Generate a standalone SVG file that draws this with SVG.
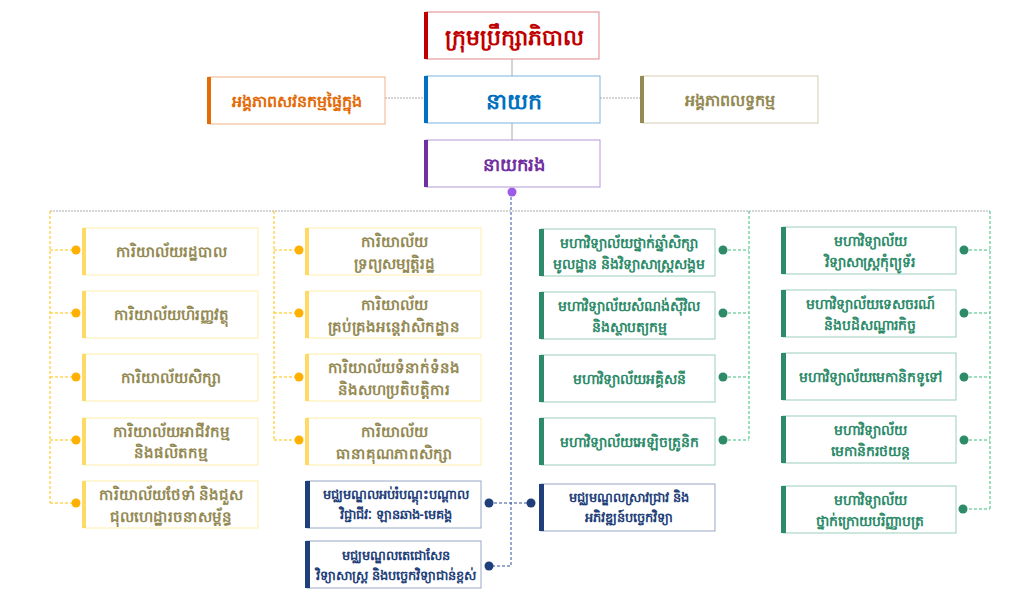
<svg xmlns="http://www.w3.org/2000/svg" width="1024" height="597" viewBox="0 0 1024 597">
<style>
text{font-family:"Noto Sans","DejaVu Sans",sans-serif;font-weight:bold;text-anchor:middle;dominant-baseline:central}
.b{fill:#fff;stroke-width:1}
.y rect.b{stroke:#ffeeaa}.y rect.bar{fill:#ffd966}.y text{fill:#948a54;font-size:15px}
.g rect.b{stroke:#9ccfbc}.g rect.bar{fill:#2e8b6a}.g text{fill:#2e8b6a;font-size:14px}
.n rect.b{stroke:#98a8c8}.n rect.bar{fill:#1f3f7a}.n text{fill:#1f3f7a;font-size:13px}
.dot-y{fill:#ffb000}.dot-g{fill:#2e8b6a}.dot-n{fill:#1f3f7a}
</style>
<rect width="1024" height="597" fill="#fff"/>
<g id="connectors" fill="none">
<line x1="512" y1="59" x2="512" y2="140" stroke="#aaa"/>
<line x1="385" y1="98" x2="424" y2="98" stroke="#aaa" stroke-dasharray="2,1"/>
<line x1="600" y1="98" x2="640" y2="98" stroke="#aaa" stroke-dasharray="2,1"/>
<line x1="50" y1="211" x2="990" y2="211" stroke="#aaa" stroke-dasharray="2,1"/>
<path d="M50 211V503M50 250H76M50 313H76M50 377H76M50 440H76M50 503H76M274 211V440M274 250H299M274 313H299M274 377H299M274 440H299" stroke="#ffc000" stroke-dasharray="3,2"/>
<path d="M749 211V440M723 250H749M723 313H749M723 377H749M723 440H749M990 211V509M964 250H990M964 313H990M964 377H990M964 440H990M964 509H990" stroke="#3cc07a" stroke-dasharray="3,2"/>
<path d="M511 192V566H489M489 503H531" stroke="#3050a0" stroke-dasharray="3,2"/>
<circle cx="512" cy="192" r="4.5" fill="#9b5ce8"/>
<g class="dot-y"><circle cx="76" cy="250" r="4.5"/><circle cx="76" cy="313" r="4.5"/><circle cx="76" cy="377" r="4.5"/><circle cx="76" cy="440" r="4.5"/><circle cx="76" cy="503" r="4.5"/><circle cx="299" cy="250" r="4.5"/><circle cx="299" cy="313" r="4.5"/><circle cx="299" cy="377" r="4.5"/><circle cx="299" cy="440" r="4.5"/></g>
<g class="dot-g"><circle cx="723" cy="250" r="4.5"/><circle cx="723" cy="313" r="4.5"/><circle cx="723" cy="377" r="4.5"/><circle cx="723" cy="440" r="4.5"/><circle cx="964" cy="250" r="4.5"/><circle cx="964" cy="313" r="4.5"/><circle cx="964" cy="377" r="4.5"/><circle cx="964" cy="440" r="4.5"/><circle cx="963" cy="509" r="4.5"/></g>
<g class="dot-n"><circle cx="489" cy="503" r="4.5"/><circle cx="489" cy="566" r="4.5"/><circle cx="531" cy="503" r="4.5"/></g>
</g>
<g id="board"><rect x="426" y="12" width="173" height="47" fill="#fff" stroke="#e08888"/><rect x="424" y="12" width="4" height="47" fill="#c00000"/><text x="514" y="36" fill="#c00000" font-size="22">ក្រុមប្រឹក្សាភិបាល</text></g>
<g id="director"><rect x="426" y="76" width="174" height="47" fill="#fff" stroke="#7ab4e0"/><rect x="424" y="76" width="4" height="47" fill="#0070c0"/><text x="514" y="100" fill="#0070c0" font-size="22">នាយក</text></g>
<g id="internal-audit"><rect x="209" y="77" width="176" height="47" fill="#fff" stroke="#f4b183"/><rect x="207" y="77" width="4" height="47" fill="#e36c09"/><text x="297" y="101" fill="#e36c09" font-size="16">អង្គភាពសវនកម្មផ្ទៃក្នុង</text></g>
<g id="procurement"><rect x="642" y="76" width="176" height="47" fill="#fff" stroke="#d4ceb0"/><rect x="640" y="76" width="4" height="47" fill="#948a54"/><text x="730" y="100" fill="#948a54" font-size="16">អង្គភាពលទ្ធកម្ម</text></g>
<g id="deputy"><rect x="426" y="140" width="174" height="47" fill="#fff" stroke="#b49ad8"/><rect x="424" y="140" width="4" height="47" fill="#7030a0"/><text x="514" y="164" fill="#7030a0" font-size="18">នាយករង</text></g>

<g id="o1" class="y"><rect class="b" x="84" y="228" width="174" height="47"/><rect class="bar" x="82" y="228" width="4" height="47"/><text x="171" y="251">ការិយាល័យរដ្ឋបាល</text></g>
<g id="o2" class="y"><rect class="b" x="84" y="291" width="174" height="47"/><rect class="bar" x="82" y="291" width="4" height="47"/><text x="171" y="314">ការិយាល័យហិរញ្ញវត្ថុ</text></g>
<g id="o3" class="y"><rect class="b" x="84" y="354" width="174" height="47"/><rect class="bar" x="82" y="354" width="4" height="47"/><text x="171" y="377">ការិយាល័យសិក្សា</text></g>
<g id="o4" class="y"><rect class="b" x="84" y="418" width="174" height="47"/><rect class="bar" x="82" y="418" width="4" height="47"/><text x="171" y="431">ការិយាល័យអាជីវកម្ម</text><text x="171" y="452">និងផលិតកម្ម</text></g>
<g id="o5" class="y"><rect class="b" x="84" y="481" width="174" height="47"/><rect class="bar" x="82" y="481" width="4" height="47"/><text x="171" y="494">ការិយាល័យថែទាំ និងជួស</text><text x="171" y="516">ជុលហេដ្ឋារចនាសម្ព័ន្ធ</text></g>

<g id="o6" class="y"><rect class="b" x="307" y="228" width="174" height="47"/><rect class="bar" x="305" y="228" width="4" height="47"/><text x="394" y="241">ការិយាល័យ</text><text x="394" y="263">ទ្រព្យសម្បត្តិរដ្ឋ</text></g>
<g id="o7" class="y"><rect class="b" x="307" y="291" width="174" height="47"/><rect class="bar" x="305" y="291" width="4" height="47"/><text x="394" y="304">ការិយាល័យ</text><text x="394" y="326">គ្រប់គ្រងអន្តេវាសិកដ្ឋាន</text></g>
<g id="o8" class="y"><rect class="b" x="307" y="354" width="174" height="47"/><rect class="bar" x="305" y="354" width="4" height="47"/><text x="394" y="367">ការិយាល័យទំនាក់ទំនង</text><text x="394" y="389">និងសហប្រតិបត្តិការ</text></g>
<g id="o9" class="y"><rect class="b" x="307" y="418" width="174" height="47"/><rect class="bar" x="305" y="418" width="4" height="47"/><text x="394" y="431">ការិយាល័យ</text><text x="394" y="453">ធានាគុណភាពសិក្សា</text></g>

<g id="c1" class="n"><rect class="b" x="307" y="481" width="174" height="47"/><rect class="bar" x="305" y="481" width="5" height="47"/><text x="396" y="494">មជ្ឈមណ្ឌលអប់រំបណ្តុះបណ្តាល</text><text x="396" y="514">វិជ្ជាជីវៈ ឡានឆាង-មេគង្គ</text></g>
<g id="c2" class="n"><rect class="b" x="307" y="541" width="174" height="47"/><rect class="bar" x="305" y="541" width="5" height="47"/><text x="396" y="555">មជ្ឈមណ្ឌលតេជោសែន</text><text x="396" y="575">វិទ្យាសាស្ត្រ និងបច្ចេកវិទ្យាជាន់ខ្ពស់</text></g>
<g id="c3" class="n"><rect class="b" x="541" y="484" width="174" height="47"/><rect class="bar" x="539" y="484" width="5" height="47"/><text x="629" y="497">មជ្ឈមណ្ឌលស្រាវជ្រាវ និង</text><text x="629" y="517">អភិវឌ្ឍន៍បច្ចេកវិទ្យា</text></g>

<g id="f1" class="g"><rect class="b" x="541" y="229" width="174" height="47"/><rect class="bar" x="539" y="229" width="5" height="47"/><text x="629" y="242">មហាវិទ្យាល័យថ្នាក់ឆ្នាំសិក្សា</text><text x="629" y="263">មូលដ្ឋាន និងវិទ្យាសាស្ត្រសង្គម</text></g>
<g id="f2" class="g"><rect class="b" x="541" y="292" width="174" height="47"/><rect class="bar" x="539" y="292" width="5" height="47"/><text x="629" y="305">មហាវិទ្យាល័យសំណង់ស៊ីវិល</text><text x="629" y="326">និងស្ថាបត្យកម្ម</text></g>
<g id="f3" class="g"><rect class="b" x="541" y="355" width="174" height="47"/><rect class="bar" x="539" y="355" width="5" height="47"/><text x="629" y="378">មហាវិទ្យាល័យអគ្គិសនី</text></g>
<g id="f4" class="g"><rect class="b" x="541" y="418" width="174" height="47"/><rect class="bar" x="539" y="418" width="5" height="47"/><text x="629" y="441">មហាវិទ្យាល័យអេឡិចត្រូនិក</text></g>
<g id="f5" class="g"><rect class="b" x="783" y="227" width="173" height="47"/><rect class="bar" x="781" y="227" width="5" height="47"/><text x="870" y="240">មហាវិទ្យាល័យ</text><text x="870" y="261">វិទ្យាសាស្ត្រកុំព្យូទ័រ</text></g>
<g id="f6" class="g"><rect class="b" x="783" y="290" width="173" height="47"/><rect class="bar" x="781" y="290" width="5" height="47"/><text x="870" y="303">មហាវិទ្យាល័យទេសចរណ៍</text><text x="870" y="324">និងបដិសណ្ឋារកិច្ច</text></g>
<g id="f7" class="g"><rect class="b" x="783" y="353" width="173" height="47"/><rect class="bar" x="781" y="353" width="5" height="47"/><text x="870" y="376">មហាវិទ្យាល័យមេកានិកទូទៅ</text></g>
<g id="f8" class="g"><rect class="b" x="783" y="416" width="173" height="47"/><rect class="bar" x="781" y="416" width="5" height="47"/><text x="870" y="429">មហាវិទ្យាល័យ</text><text x="870" y="450">មេកានិករថយន្ត</text></g>
<g id="f9" class="g"><rect class="b" x="783" y="486" width="173" height="47"/><rect class="bar" x="781" y="486" width="5" height="47"/><text x="870" y="499">មហាវិទ្យាល័យ</text><text x="870" y="520">ថ្នាក់ក្រោយបរិញ្ញាបត្រ</text></g>
</svg>
